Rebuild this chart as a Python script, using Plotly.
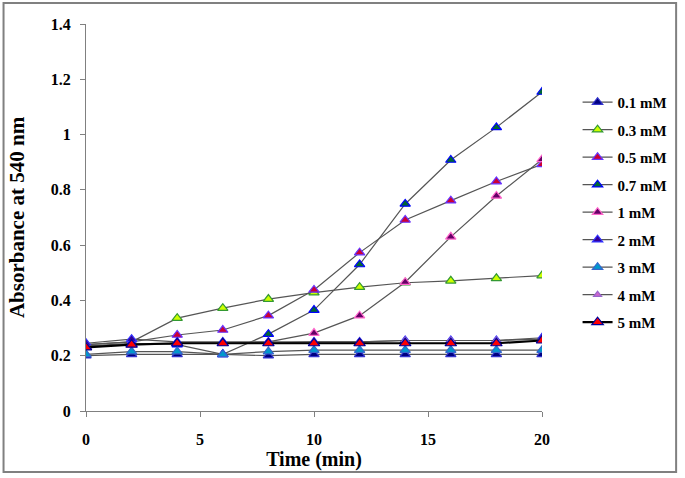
import plotly.graph_objects as go

time_min = [0, 2, 4, 6, 8, 10, 12, 14, 16, 18, 20]

labels = ["0.1 mM", "0.3 mM", "0.5 mM", "0.7 mM", "1 mM", "2 mM", "3 mM", "4 mM", "5 mM"]

abs_01 = [0.20, 0.205, 0.205, 0.205, 0.20, 0.205, 0.205, 0.205, 0.205, 0.205, 0.205]
abs_03 = [0.24, 0.25, 0.336, 0.372, 0.405, 0.428, 0.448, 0.464, 0.471, 0.480, 0.490]
abs_05 = [0.24, 0.25, 0.275, 0.293, 0.345, 0.438, 0.573, 0.691, 0.761, 0.830, 0.892]
abs_07 = [0.235, 0.245, 0.24, 0.205, 0.278, 0.365, 0.530, 0.749, 0.908, 1.026, 1.154]
abs_1 = [0.235, 0.24, 0.245, 0.245, 0.25, 0.282, 0.345, 0.466, 0.630, 0.778, 0.910]
abs_2 = [0.245, 0.26, 0.25, 0.25, 0.25, 0.25, 0.25, 0.255, 0.255, 0.255, 0.265]
abs_3 = [0.205, 0.215, 0.215, 0.205, 0.215, 0.22, 0.22, 0.22, 0.22, 0.22, 0.22]
abs_4 = [0.235, 0.24, 0.245, 0.245, 0.245, 0.25, 0.25, 0.255, 0.255, 0.255, 0.26]
abs_5 = [0.23, 0.24, 0.245, 0.245, 0.245, 0.245, 0.245, 0.245, 0.245, 0.245, 0.255]

series = [abs_01, abs_03, abs_05, abs_07, abs_1, abs_2, abs_3, abs_4, abs_5]

fills = ["#000080", "#ccff00", "#cc0033", "#006633", "#660066", "#330099", "#0099cc", "#cc66cc", "#ff0000"]
edges = ["#3333cc", "#339933", "#6633ff", "#0000ff", "#ff66cc", "#3333ff", "#3366cc", "#9966cc", "#000099"]
sizes = [9, 9, 9, 9, 9, 9, 9, 7, 10]
lcols = ["#555555"] * 8 + ["#000000"]
lwidths = [1.2] * 8 + [2.2]

fig = go.Figure()
for i, (lab, ys) in enumerate(zip(labels, series)):
    fig.add_trace(go.Scatter(
        x=time_min, y=ys, name=lab, mode="lines+markers",
        legendgroup=lab,
        line=dict(color=lcols[i], width=lwidths[i]),
        marker=dict(symbol="triangle-up", size=sizes[i], color=fills[i],
                    line=dict(color=edges[i], width=1.2)),
    ))

font_family = "Liberation Serif, Times New Roman, serif"

fig.update_layout(
    width=685, height=478,
    margin=dict(l=86, r=140, t=24, b=67),
    paper_bgcolor="white", plot_bgcolor="white",
    font=dict(family=font_family, size=15, color="black"),
    showlegend=True,
    legend=dict(
        x=1.078, y=0.84, xanchor="left", yanchor="top",
        font=dict(family=font_family, size=15, color="black", weight="bold"),
        tracegroupgap=5, bgcolor="rgba(0,0,0,0)",
    ),
    xaxis=dict(
        range=[0, 20], tickvals=[0, 5, 10, 15, 20],
        showgrid=False, zeroline=False,
        showline=True, linecolor="#808080", linewidth=1,
        ticks="outside", ticklen=5, tickcolor="#808080",
        ticklabelstandoff=9,
        tickfont=dict(family=font_family, size=16, color="black", weight="bold"),
        title=dict(text="Time (min)", standoff=2,
                   font=dict(family=font_family, size=20, color="black", weight="bold")),
    ),
    yaxis=dict(
        range=[0, 1.4], tickvals=[0, 0.2, 0.4, 0.6, 0.8, 1.0, 1.2, 1.4],
        ticktext=["0", "0.2", "0.4", "0.6", "0.8", "1", "1.2", "1.4"],
        showgrid=False, zeroline=False,
        showline=True, linecolor="#808080", linewidth=1,
        ticks="outside", ticklen=5, tickcolor="#808080",
        ticklabelstandoff=6,
        tickfont=dict(family=font_family, size=16, color="black", weight="bold"),
        title=dict(text="Absorbance at 540 nm", standoff=20,
                   font=dict(family=font_family, size=21, color="black", weight="bold")),
    ),
    shapes=[dict(type="rect", xref="paper", yref="paper",
                 x0=-83 / 459, x1=594 / 459, y0=-61 / 387, y1=408 / 387,
                 line=dict(color="#808080", width=2), fillcolor="rgba(0,0,0,0)")],
)

fig.write_html("out.html", config={"displayModeBar": False},
               post_script="document.body.style.margin='0';")
